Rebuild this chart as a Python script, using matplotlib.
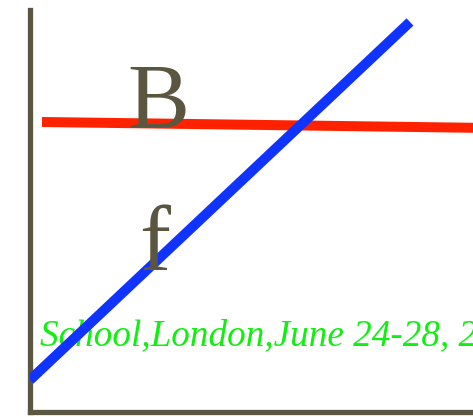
import matplotlib
matplotlib.use("Agg")
import matplotlib.pyplot as plt

W, H = 473, 417
DPI = 100

# data (pixel-like units, y up)
red_x = [42, 490]
red_y = [295, 289]
blue_x = [30, 410]
blue_y = [37, 395]
labels = ["B", "f"]
label_x = [127, 139]
label_y = [290, 147]
caption = "School,London,June 24-28, 2009"
caption_x = 40
caption_y = 72

spine_color = "#5a5640"

fig = plt.figure(figsize=(W / DPI, H / DPI), dpi=DPI)
ax = fig.add_axes([30 / W, 5 / H, 460 / W, 402 / H])
ax.set_xlim(30, 490)
ax.set_ylim(5, 407)
for s in ["top", "right"]:
    ax.spines[s].set_visible(False)
for s in ["left", "bottom"]:
    ax.spines[s].set_color(spine_color)
    ax.spines[s].set_linewidth(3.8)
ax.set_xticks([])
ax.set_yticks([])

ax.plot(red_x, red_y, color="#ff2200", lw=7.2, solid_capstyle="butt", zorder=2)
ax.text(caption_x, caption_y, caption, color="#11ee11", fontsize=26.7,
        family="Liberation Serif", style="italic", ha="left", va="baseline",
        zorder=3, clip_on=False)
ax.plot(blue_x, blue_y, color="#1133ff", lw=7.2, solid_capstyle="butt", zorder=4)
for t, x, y in zip(labels, label_x, label_y):
    ax.text(x, y, t, color=spine_color, fontsize=67, family="Liberation Serif",
            ha="left", va="baseline", zorder=5)

fig.savefig("out.png", dpi=DPI)
